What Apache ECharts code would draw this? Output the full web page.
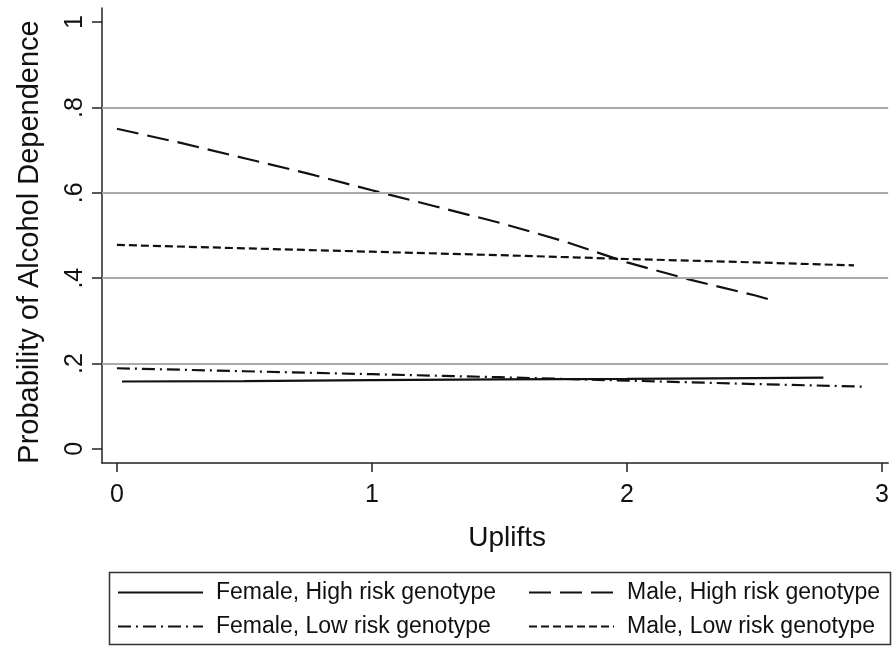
<!DOCTYPE html>
<html>
<head>
<meta charset="utf-8">
<script src="https://cdn.jsdelivr.net/npm/echarts@6/dist/echarts.min.js"></script>
<style>html,body{margin:0;padding:0;background:#fff;}#c{width:892px;height:647px;}</style>
</head>
<body>
<div id="c"></div>
<script>
// ---- data ----
const seriesNames = ['Female, High risk genotype', 'Male, High risk genotype', 'Female, Low risk genotype', 'Male, Low risk genotype'];
const femaleHighX = [0.02, 0.5, 1, 1.5, 2, 2.5, 2.77];
const femaleHighY = [0.158, 0.159, 0.161, 0.163, 0.164, 0.166, 0.167];
const maleHighX = [0, 0.25, 0.5, 0.75, 1, 1.25, 1.5, 1.75, 2, 2.25, 2.5, 2.56];
const maleHighY = [0.750, 0.717, 0.681, 0.645, 0.606, 0.568, 0.530, 0.487, 0.437, 0.396, 0.360, 0.350];
const femaleLowX = [0, 0.5, 1, 1.5, 2, 2.5, 2.92];
const femaleLowY = [0.189, 0.182, 0.175, 0.168, 0.160, 0.152, 0.146];
const maleLowX = [0, 0.5, 1, 1.5, 2, 2.5, 2.89];
const maleLowY = [0.478, 0.470, 0.462, 0.454, 0.445, 0.437, 0.430];
const xTicks = [0, 1, 2, 3];
const yTicks = [0, 0.2, 0.4, 0.6, 0.8, 1];
const gridValues = [0.2, 0.4, 0.6, 0.8];

const zip = (xs, ys) => xs.map((x, i) => [x, ys[i]]);
const FONT = 'Liberation Sans';
const fmtY = v => (v === 0 ? '0' : v === 1 ? '1' : String(+v.toFixed(1)).replace(/^0\./, '.'));

function lineSeries(name, data, type, z) {
  return {
    name, type: 'line', data, symbol: 'none', smooth: false, z: z || 3,
    lineStyle: { color: '#111', width: 2.2, type: type, cap: 'butt' },
    itemStyle: { color: '#111' },
    emphasis: { disabled: true }
  };
}

const legendCommon = {
  orient: 'vertical', top: 581, padding: 0,
  itemWidth: 85, itemHeight: 20, itemGap: 11, selectedMode: false,
  itemStyle: { color: 'rgba(0,0,0,0)', borderColor: 'rgba(0,0,0,0)', borderWidth: 0 },
  textStyle: { fontSize: 23, color: '#111', fontFamily: FONT, padding: [0, 0, 0, 8] }
};

const chart = echarts.init(document.getElementById('c'), null, { renderer: 'canvas' });
const option = {
  animation: false,
  backgroundColor: '#fff',
  textStyle: { fontFamily: FONT },
  grid: { left: 102, right: 0, top: 8, bottom: 184, containLabel: false },
  xAxis: {
    type: 'value', min: -0.0585, max: 3.024,
    name: 'Uplifts', nameLocation: 'middle', nameGap: 61,
    nameTextStyle: { fontSize: 28, color: '#111', fontFamily: FONT, padding: [0, 0, 0, 24] },
    axisLine: { show: true, onZero: false, lineStyle: { color: '#222', width: 1.5 } },
    axisTick: { show: true, length: 9, customValues: xTicks, lineStyle: { color: '#222', width: 1.5 } },
    axisLabel: { customValues: xTicks, margin: 20, fontSize: 25, color: '#111', fontFamily: FONT },
    splitLine: { show: false }
  },
  yAxis: {
    type: 'value', min: -0.033, max: 1.033,
    name: 'Probability of Alcohol Dependence', nameLocation: 'middle', nameGap: 58, nameRotate: 90,
    nameTextStyle: { fontSize: 29, color: '#111', fontFamily: FONT, padding: [0, 13, 0, 0] },
    axisLine: { show: true, onZero: false, lineStyle: { color: '#222', width: 1.5 } },
    axisTick: { show: true, length: 10, customValues: yTicks, lineStyle: { color: '#222', width: 1.5 } },
    axisLabel: { customValues: yTicks, rotate: 90, margin: 14, fontSize: 25, color: '#111', fontFamily: FONT, formatter: fmtY },
    splitLine: { show: false }
  },
  legend: [
    Object.assign({}, legendCommon, { data: [seriesNames[0], seriesNames[2]], left: 117 }),
    Object.assign({}, legendCommon, { data: [seriesNames[1], seriesNames[3]], left: 528 })
  ],
  graphic: [{
    type: 'rect', shape: { x: 109.5, y: 572.5, width: 781, height: 72 },
    style: { fill: 'none', stroke: '#333', lineWidth: 1.5 }, silent: true
  }],
  series: [
    {
      name: 'grid', type: 'line', data: [], z: 1, silent: true,
      markLine: {
        silent: true, symbol: 'none', animation: false,
        label: { show: false },
        lineStyle: { color: '#aaaaaa', width: 2, type: 'solid' },
        data: gridValues.map(v => ({ yAxis: v }))
      }
    },
    lineSeries(seriesNames[0], zip(femaleHighX, femaleHighY), 'solid'),
    lineSeries(seriesNames[1], zip(maleHighX, maleHighY), [22, 9]),
    lineSeries(seriesNames[2], zip(femaleLowX, femaleLowY), [13, 5, 2, 5]),
    lineSeries(seriesNames[3], zip(maleLowX, maleLowY), [8, 4])
  ]
};
chart.setOption(option);
</script>
</body>
</html>
